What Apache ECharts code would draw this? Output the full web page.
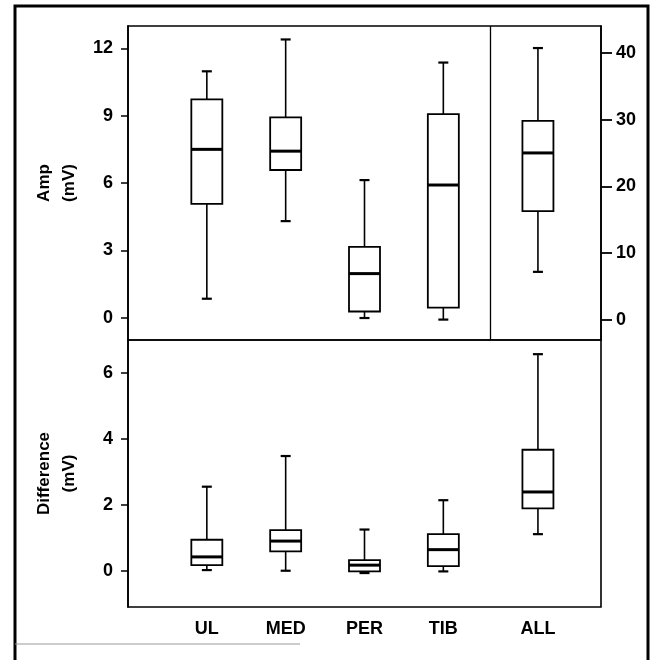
<!DOCTYPE html>
<html>
<head>
<meta charset="utf-8">
<script src="https://cdn.jsdelivr.net/npm/echarts@6/dist/echarts.min.js"></script>
<style>
  html, body { margin: 0; padding: 0; background: #fff; }
  #main { width: 652px; height: 660px; }
</style>
</head>
<body>
<div id="main"></div>
<script>
// groups along the bottom, and where they sit on the x scale
const labels = ['UL', 'MED', 'PER', 'TIB', 'ALL'];
const xPos = [1, 2, 3, 4, 5.2];

// amplitude boxes [min, Q1, median, Q3, max] (left axis)
const ampUL = [0.84, 5.07, 7.5, 9.73, 10.98];
const ampMED = [4.3, 6.58, 7.42, 8.93, 12.4];
const ampPER = [-0.02, 0.27, 1.96, 3.15, 6.13];
const ampTIB = [-0.09, 0.44, 5.91, 9.07, 11.37];
// ALL amplitude on the right axis
const ampALL = [7.2, 16.3, 25, 29.8, 40.7];

// difference boxes [min, Q1, median, Q3, max]
const difUL = [0.02, 0.17, 0.42, 0.94, 2.55];
const difMED = [0, 0.59, 0.9, 1.23, 3.48];
const difPER = [-0.07, -0.02, 0.17, 0.32, 1.25];
const difTIB = [-0.02, 0.14, 0.64, 1.11, 2.14];
const difALL = [1.11, 1.89, 2.39, 3.67, 6.57];

// tick labels
const ampTicks = [0, 3, 6, 9, 12];
const allTicks = [0, 10, 20, 30, 40];
const difTicks = [0, 2, 4, 6];

const font = 'Liberation Sans, Arial, sans-serif';
const boxHalf = 15.5;
const capHalf = 5;

function renderBox(params, api) {
  const x = api.value(0);
  const pMin = api.coord([x, api.value(1)]);
  const pQ1 = api.coord([x, api.value(2)]);
  const pMed = api.coord([x, api.value(3)]);
  const pQ3 = api.coord([x, api.value(4)]);
  const pMax = api.coord([x, api.value(5)]);
  const cx = pMed[0];
  const st = { stroke: '#000', lineWidth: 1.6, fill: null };
  return {
    type: 'group',
    children: [
      { type: 'line', shape: { x1: cx, y1: pMax[1], x2: cx, y2: pQ3[1] }, style: st },
      { type: 'line', shape: { x1: cx, y1: pQ1[1], x2: cx, y2: pMin[1] }, style: st },
      { type: 'line', shape: { x1: cx - capHalf, y1: pMax[1], x2: cx + capHalf, y2: pMax[1] }, style: { stroke: '#000', lineWidth: 2.2 } },
      { type: 'line', shape: { x1: cx - capHalf, y1: pMin[1], x2: cx + capHalf, y2: pMin[1] }, style: { stroke: '#000', lineWidth: 2.2 } },
      { type: 'rect', shape: { x: cx - boxHalf, y: pQ3[1], width: boxHalf * 2, height: pQ1[1] - pQ3[1] }, style: { stroke: '#000', lineWidth: 1.8, fill: '#fff' } },
      { type: 'line', shape: { x1: cx - boxHalf, y1: pMed[1], x2: cx + boxHalf, y2: pMed[1] }, style: { stroke: '#000', lineWidth: 3 } }
    ]
  };
}

function rows(list, idx) {
  return list.map(function (s, i) { return [xPos[idx[i]]].concat(s); });
}

const axisText = { color: '#000', fontFamily: font, fontWeight: 'bold', fontSize: 18 };

const option = {
  animation: false,
  backgroundColor: '#fff',
  grid: [
    { left: 128, top: 26, width: 473, height: 314, show: true, borderColor: '#000', borderWidth: 1.6, backgroundColor: 'transparent' },
    { left: 128, top: 340, width: 473, height: 267, show: true, borderColor: '#000', borderWidth: 1.6, backgroundColor: 'transparent' }
  ],
  xAxis: [
    { type: 'value', gridIndex: 0, min: 0, max: 6, show: false },
    {
      type: 'value', gridIndex: 1, min: 0, max: 6,
      axisLine: { show: false }, axisTick: { show: false }, splitLine: { show: false },
      axisLabel: {
        customValues: xPos, margin: 13, ...axisText,
        formatter: function (v) {
          const i = xPos.indexOf(v);
          return i >= 0 ? labels[i] : '';
        }
      }
    }
  ],
  yAxis: [
    {
      type: 'value', gridIndex: 0, min: -1, max: 13, position: 'left',
      name: 'Amp\n(mV)', nameLocation: 'middle', nameRotate: 90, nameGap: 46,
      nameTextStyle: { ...axisText, fontSize: 17, lineHeight: 25 },
      axisLine: { show: true, lineStyle: { color: '#000', width: 1.6 } },
      axisTick: { show: true, customValues: ampTicks, length: 7, lineStyle: { color: '#000', width: 1.5 } },
      axisLabel: { customValues: ampTicks, margin: 15, ...axisText },
      splitLine: { show: false }
    },
    {
      type: 'value', gridIndex: 0, min: -3, max: 44, position: 'right',
      axisLine: { show: true, lineStyle: { color: '#000', width: 1.6 } },
      axisTick: { show: true, customValues: allTicks, length: 11, lineStyle: { color: '#000', width: 1.8 } },
      axisLabel: { customValues: allTicks, margin: 15, ...axisText },
      splitLine: { show: false }
    },
    {
      type: 'value', gridIndex: 1, min: -1.1, max: 7, position: 'left',
      name: 'Difference\n(mV)', nameLocation: 'middle', nameRotate: 90, nameGap: 46,
      nameTextStyle: { ...axisText, fontSize: 17, lineHeight: 25 },
      axisLine: { show: true, lineStyle: { color: '#000', width: 1.6 } },
      axisTick: { show: true, customValues: difTicks, length: 7, lineStyle: { color: '#000', width: 1.5 } },
      axisLabel: { customValues: difTicks, margin: 15, ...axisText },
      splitLine: { show: false }
    }
  ],
  series: [
    {
      name: 'amp', type: 'custom', xAxisIndex: 0, yAxisIndex: 0,
      renderItem: renderBox,
      encode: { x: 0, y: [1, 2, 3, 4, 5] },
      data: rows([ampUL, ampMED, ampPER, ampTIB], [0, 1, 2, 3]),
      markLine: {
        silent: true, symbol: 'none', label: { show: false },
        lineStyle: { color: '#000', width: 1.3, type: 'solid' },
        data: [{ xAxis: 4.6 }]
      }
    },
    {
      name: 'ampAll', type: 'custom', xAxisIndex: 0, yAxisIndex: 1,
      renderItem: renderBox,
      encode: { x: 0, y: [1, 2, 3, 4, 5] },
      data: rows([ampALL], [4])
    },
    {
      name: 'diff', type: 'custom', xAxisIndex: 1, yAxisIndex: 2,
      renderItem: renderBox,
      encode: { x: 0, y: [1, 2, 3, 4, 5] },
      data: rows([difUL, difMED, difPER, difTIB, difALL], [0, 1, 2, 3, 4])
    }
  ],
  graphic: [
    { type: 'polyline', shape: { points: [[15, 662], [15, 6], [648, 6], [648, 662]] }, style: { stroke: '#000', lineWidth: 3, fill: null } },
    { type: 'line', shape: { x1: 15, y1: 644, x2: 300, y2: 644 }, style: { stroke: '#999', lineWidth: 1 } }
  ]
};

const chart = echarts.init(document.getElementById('main'));
chart.setOption(option);
</script>
</body>
</html>
